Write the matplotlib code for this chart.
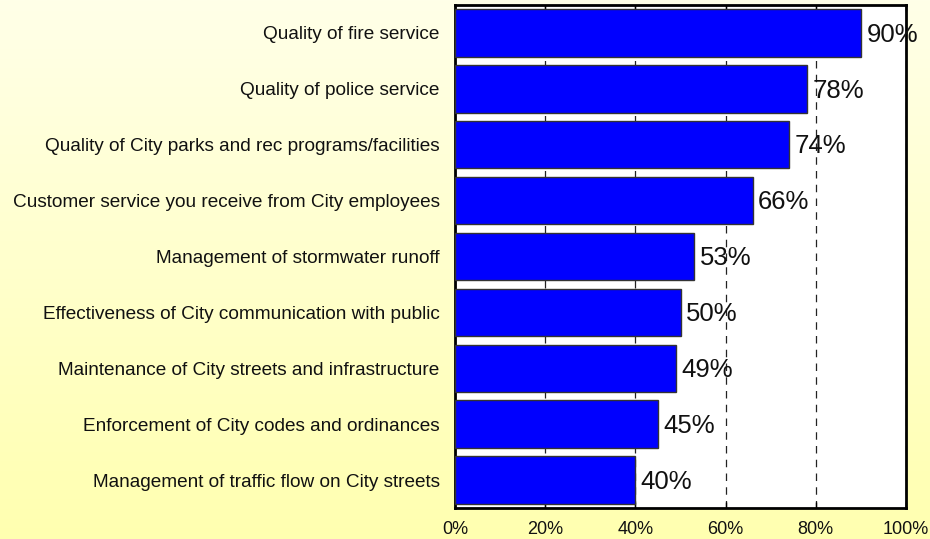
import numpy as np
import matplotlib.pyplot as plt
from matplotlib.colors import LinearSegmentedColormap
from matplotlib.ticker import PercentFormatter

# survey data (percent satisfied)
items = ['Quality of fire service',
         'Quality of police service',
         'Quality of City parks and rec programs/facilities',
         'Customer service you receive from City employees',
         'Management of stormwater runoff',
         'Effectiveness of City communication with public',
         'Maintenance of City streets and infrastructure',
         'Enforcement of City codes and ordinances',
         'Management of traffic flow on City streets']
values = [90, 78, 74, 66, 53, 50, 49, 45, 40]
xticks = [0, 20, 40, 60, 80, 100]

plt.rcParams['font.family'] = ['Liberation Sans', 'DejaVu Sans']

fig = plt.figure(figsize=(9.3, 5.39), dpi=100)

# yellow gradient background
bg = fig.add_axes([0, 0, 1, 1], zorder=-10)
cmap = LinearSegmentedColormap.from_list('bg', ['#FFFFE8', '#FFFFB0'])
bg.imshow(np.linspace(0, 1, 256).reshape(-1, 1), aspect='auto', cmap=cmap,
          extent=[0, 1, 0, 1])
bg.axis('off')

ax = fig.add_axes([455/930, 31/539, 451/930, 503/539])
ax.set_facecolor('white')

y = np.arange(len(items))
ax.barh(y, values, height=0.85, color='#0000FF', edgecolor='#333333',
        linewidth=1, zorder=3)
for yi, v in zip(y, values):
    ax.text(v + 1.2, yi + 0.03, f'{v}%', va='center', ha='left', fontsize=18.5,
            color='#111111', zorder=4)

ax.set_xlim(0, 100)
ax.set_ylim(len(items) - 0.5, -0.5)
ax.set_xticks(xticks)
ax.xaxis.set_major_formatter(PercentFormatter(decimals=0))
ax.set_yticks(y)
ax.set_yticklabels(items)
ax.tick_params(axis='y', length=0, pad=11, labelsize=13.7, labelcolor='#111111')
ax.tick_params(axis='x', direction='in', top=True, length=4, width=1,
               labelsize=13, labelcolor='#111111', pad=9)
ax.xaxis.grid(True, linestyle=(0, (6, 5)), color='#222222', linewidth=0.9, zorder=0)
ax.set_axisbelow(True)
for s in ax.spines.values():
    s.set_linewidth(2)
    s.set_color('black')

plt.savefig('out.png', dpi=100)
